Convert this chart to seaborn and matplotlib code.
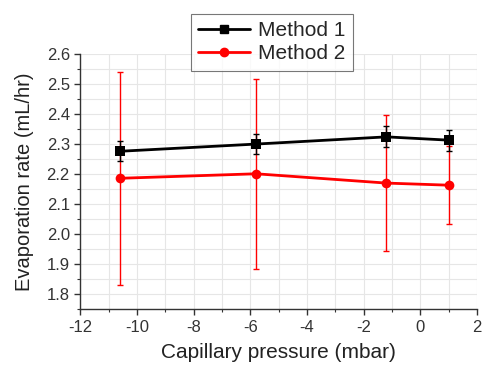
import matplotlib
matplotlib.use("Agg")
import matplotlib.pyplot as plt
import seaborn as sns
import pandas as pd
import numpy as np
from matplotlib.ticker import MultipleLocator, FormatStrFormatter
from matplotlib.lines import Line2D

pressure = [-10.6, -5.8, -1.2, 1.0]
method1 = [2.276, 2.300, 2.324, 2.313]
method1_err = [0.033, 0.034, 0.035, 0.035]
method2 = [2.186, 2.201, 2.170, 2.163]
method2_err = [0.355, 0.316, 0.227, 0.130]
labels = ["Method 1", "Method 2"]

df = pd.DataFrame({
    "p": pressure * 2,
    "rate": method1 + method2,
    "method": [labels[0]] * 4 + [labels[1]] * 4,
})

sns.set_style("ticks")
plt.rcParams["font.family"] = ["Liberation Sans", "DejaVu Sans"]
plt.rcParams["axes.unicode_minus"] = False

fig = plt.figure(figsize=(4.83, 3.65), dpi=100)
ax = fig.add_axes([0.166, 0.153, 0.822, 0.699])

ax.errorbar(pressure, method2, yerr=method2_err, fmt="none", ecolor="red",
            elinewidth=1, capsize=2, capthick=1, zorder=2)
ax.errorbar(pressure, method1, yerr=method1_err, fmt="none", ecolor="black",
            elinewidth=1, capsize=2, capthick=1, zorder=3)

sns.lineplot(data=df, x="p", y="rate", hue="method", style="method",
             hue_order=labels[::-1], style_order=labels[::-1],
             palette={labels[0]: "black", labels[1]: "red"},
             markers={labels[0]: "s", labels[1]: "o"}, dashes=False,
             linewidth=2, markersize=7, markeredgewidth=0, ax=ax, legend=False,
             zorder=4)

ax.set_xlim(-12, 2)
ax.set_ylim(1.75, 2.6)
ax.xaxis.set_major_locator(MultipleLocator(2))
ax.xaxis.set_minor_locator(MultipleLocator(1))
ax.yaxis.set_major_locator(MultipleLocator(0.1))
ax.yaxis.set_minor_locator(MultipleLocator(0.05))
ax.xaxis.set_major_formatter(FormatStrFormatter("%d"))
ax.yaxis.set_major_formatter(FormatStrFormatter("%.1f"))
ax.grid(True, which="both", color="#e6e6e6", linewidth=0.8)
ax.set_axisbelow(True)
for s in ["top", "right"]:
    ax.spines[s].set_visible(False)
for s in ["left", "bottom"]:
    ax.spines[s].set_color("#333333")
    ax.spines[s].set_linewidth(1)
ax.tick_params(which="major", direction="out", length=4, width=1,
               labelsize=12, colors="#333333", labelcolor="#333333")
ax.tick_params(which="minor", direction="out", length=2.5, width=0.8, colors="#333333")

ax.set_xlabel("Capillary pressure (mbar)", fontsize=15, color="#222222", labelpad=6)
ax.set_ylabel("Evaporation rate (mL/hr)", fontsize=14.5, color="#222222", labelpad=9)

handles = [Line2D([], [], color="black", marker="s", lw=2, ms=6),
           Line2D([], [], color="red", marker="o", lw=2, ms=6)]
leg = fig.legend(handles, labels, loc="upper center", bbox_to_anchor=(0.563, 0.962),
                 fontsize=15, frameon=True, fancybox=False, edgecolor="#555555",
                 handlelength=2.5, borderpad=0.35, labelspacing=0.2, handletextpad=0.4,
                 borderaxespad=0)
leg.get_frame().set_linewidth(0.8)

fig.savefig("out.png", dpi=100)
